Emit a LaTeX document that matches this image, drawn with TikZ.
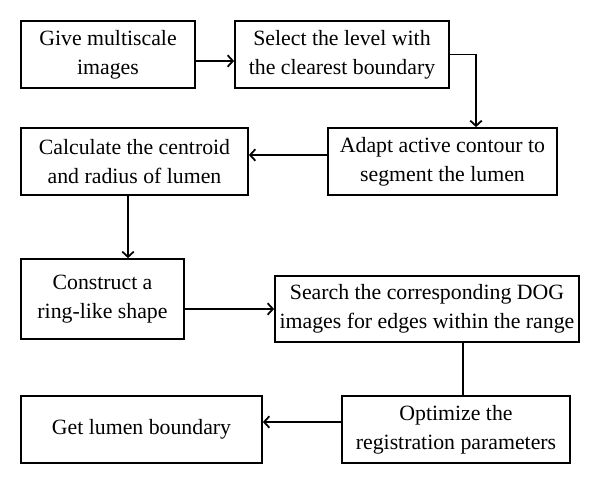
\documentclass[tikz,border=0pt]{standalone}
\usepackage{fontspec}
\setmainfont{Liberation Serif}
\usetikzlibrary{arrows.meta}

\begin{document}
\begin{tikzpicture}[
  stepbox/.style={draw,line width=1pt,align=center,inner sep=0pt,
    font=\fontsize{12.4}{16.5}\selectfont},
  >={Straight Barb[length=3pt,width=6.5pt]},
  every path/.style={line width=1pt}]

\useasboundingbox (0,0) rectangle (12,-9.68);

\node[stepbox,minimum width=3.48cm,minimum height=1.34cm] (give) at (2.16,-1.09) {Give multiscale\\images};
\node[stepbox,minimum width=4.28cm,minimum height=1.34cm] (select) at (6.84,-1.09) {Select the level with\\the clearest boundary};
\node[stepbox,minimum width=4.58cm,minimum height=1.34cm] (adapt) at (8.85,-3.23) {Adapt active contour to\\segment the lumen};
\node[stepbox,minimum width=4.54cm,minimum height=1.34cm] (centroid) at (2.69,-3.23) {Calculate the centroid\\and radius of lumen};
\node[stepbox,minimum width=3.26cm,minimum height=1.6cm] (ring) at (2.05,-5.98) {Construct a\\ring-like shape};
\node[stepbox,minimum width=6.08cm,minimum height=1.32cm] (search) at (8.54,-6.18) {Search the corresponding DOG\\images for edges within the range};
\node[stepbox,minimum width=4.56cm,minimum height=1.34cm] (optimize) at (9.12,-8.59) {Optimize the\\registration parameters};
\node[stepbox,minimum width=4.82cm,minimum height=1.34cm] (result) at (2.83,-8.59) {Get lumen boundary};

\coordinate (turn) at (9.52,-1.09);
\coordinate (drop) at (9.26,-6.18);

\draw[->] ([yshift=-0.13cm]give.east) -- ([yshift=-0.13cm]select.west);
\draw[->] (select.east) -- (turn) -- (turn |- adapt.north);
\draw[->] ([yshift=0.13cm]adapt.west) -- ([yshift=0.13cm]centroid.east);
\draw[->] ([xshift=-0.13cm]centroid.south) -- ([xshift=-0.13cm]centroid.south |- ring.north);
\draw[->] (ring.east |- search.west) -- (search.west);
\draw (drop |- search.south) -- (drop |- optimize.north);
\draw[->] ([yshift=0.15cm]optimize.west) -- ([yshift=0.15cm]result.east);

\end{tikzpicture}
\end{document}
